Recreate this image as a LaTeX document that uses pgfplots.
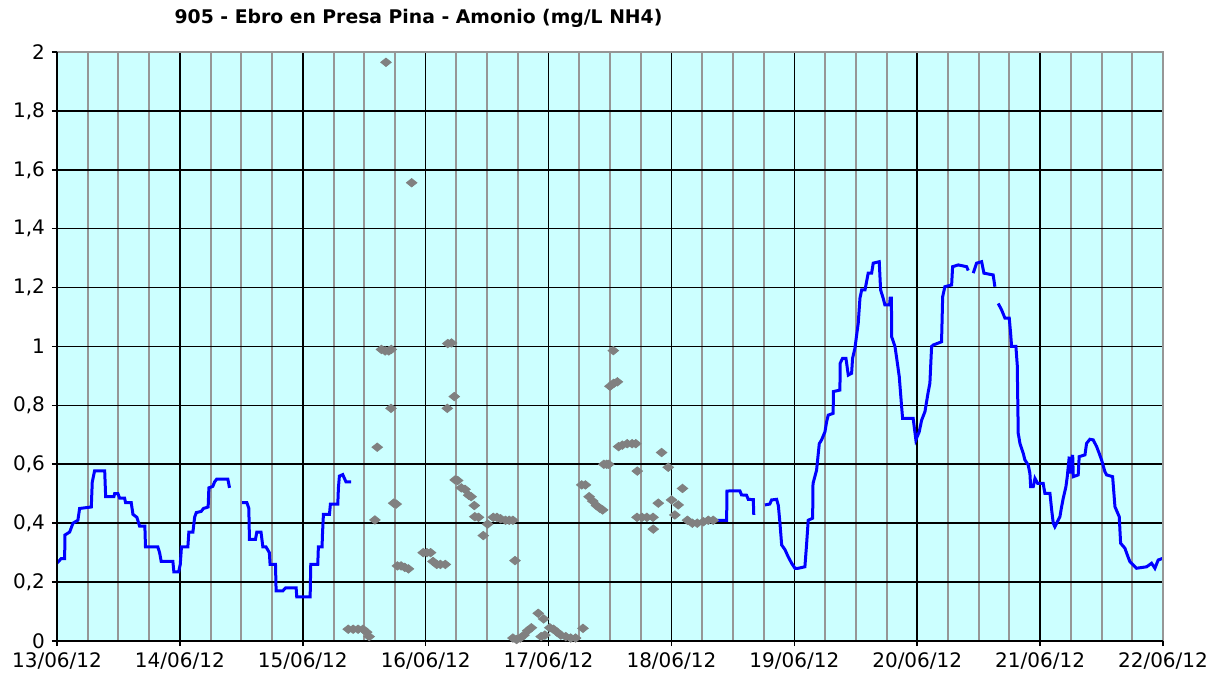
\documentclass[border=0pt]{standalone}
\usepackage{fontspec}
\setmainfont{DejaVu Sans}
\usepackage{pgfplots}
\pgfplotsset{compat=1.18}
\definecolor{bgc}{RGB}{204,255,255}
\definecolor{gridgray}{RGB}{150,150,150}
\definecolor{ptgray}{RGB}{128,128,128}
\definecolor{lineblue}{RGB}{0,0,255}
\begin{document}
\begin{tikzpicture}
\path[use as bounding box] (-28.5pt,-19.5pt) rectangle (582pt,320.5pt);
\begin{axis}[
  at={(0,0)}, anchor=south west,
  scale only axis, width=553pt, height=294.5pt,
  xmin=0, xmax=9, ymin=0, ymax=2,
  axis background/.style={fill=bgc},
  axis line style={draw=none},
  xtick={0,1,2,3,4,5,6,7,8,9},
  xticklabels={13/06/12,14/06/12,15/06/12,16/06/12,17/06/12,18/06/12,19/06/12,20/06/12,21/06/12,22/06/12},
  ytick={0,0.2,0.4,0.6,0.8,1,1.2,1.4,1.6,1.8,2},
  minor x tick num=3,
  grid=both,
  minor grid style={gridgray, line width=1pt},
  major grid style={black, line width=0.8pt},
  tick align=outside,
  tick pos=lower,
  major tick length=2.5pt, minor tick length=0pt,
  tick style={black, line width=0.8pt},
  ticklabel style={font=\fontsize{10}{12}\selectfont},
  /pgf/number format/use comma,
  /pgf/number format/assume math mode=true,
  clip=false,
]
% blue series
\addplot[lineblue, line width=1.5pt, mark=none] coordinates {
(0,0.265)(0.035,0.28)(0.062,0.28)(0.065,0.36)(0.103,0.37)(0.13,0.40)(0.17,0.41)(0.184,0.45)(0.279,0.455)(0.287,0.54)(0.306,0.578)(0.388,0.578)(0.396,0.49)(0.463,0.49)(0.469,0.50)(0.496,0.50)(0.51,0.485)(0.55,0.485)(0.558,0.47)(0.604,0.47)(0.618,0.43)(0.65,0.42)(0.672,0.39)(0.715,0.39)(0.72,0.32)(0.82,0.32)(0.835,0.30)(0.848,0.27)(0.943,0.27)(0.951,0.235)(0.99,0.235)(1.003,0.26)(1.013,0.32)(1.065,0.32)(1.073,0.37)(1.106,0.37)(1.12,0.42)(1.133,0.436)(1.173,0.44)(1.192,0.45)(1.23,0.455)(1.236,0.52)(1.268,0.525)(1.282,0.54)(1.30,0.55)(1.39,0.55)(1.404,0.52)
};
\addplot[lineblue, line width=1.5pt, mark=none] coordinates {
(1.507,0.47)(1.545,0.47)(1.561,0.45)(1.566,0.345)(1.615,0.345)(1.626,0.37)(1.66,0.37)(1.675,0.32)(1.70,0.32)(1.728,0.30)(1.734,0.26)(1.778,0.26)(1.783,0.17)(1.837,0.17)(1.859,0.18)(1.946,0.18)(1.951,0.15)(2.06,0.15)(2.065,0.26)(2.122,0.26)(2.127,0.32)(2.157,0.32)(2.16,0.36)(2.168,0.43)(2.217,0.43)(2.225,0.465)(2.285,0.465)(2.29,0.52)(2.298,0.56)(2.325,0.565)(2.352,0.54)(2.393,0.54)
};
\addplot[lineblue, line width=1.5pt, mark=none] coordinates {
(5.354,0.41)(5.449,0.41)(5.452,0.509)(5.49,0.51)(5.557,0.51)(5.57,0.496)(5.611,0.495)(5.625,0.481)(5.666,0.48)(5.67,0.428)
};
\addplot[lineblue, line width=1.5pt, mark=none] coordinates {
(5.761,0.462)(5.80,0.465)(5.815,0.479)(5.856,0.481)(5.87,0.46)(5.883,0.40)(5.897,0.326)(5.924,0.31)(5.950,0.286)(5.978,0.264)(6.005,0.247)(6.032,0.247)(6.086,0.252)(6.100,0.33)(6.113,0.41)(6.149,0.417)(6.152,0.535)(6.181,0.58)(6.203,0.67)(6.222,0.683)(6.249,0.71)(6.263,0.745)(6.276,0.767)(6.316,0.773)(6.318,0.847)(6.371,0.852)(6.373,0.943)(6.393,0.96)(6.420,0.96)(6.439,0.903)(6.466,0.909)(6.474,0.96)(6.493,0.994)(6.507,1.039)(6.520,1.079)(6.534,1.164)(6.548,1.192)(6.575,1.192)(6.601,1.249)(6.629,1.249)(6.642,1.283)(6.691,1.288)(6.702,1.192)(6.723,1.164)(6.737,1.141)(6.775,1.141)(6.78,1.164)(6.79,1.164)(6.792,1.033)(6.819,1.0)(6.833,0.96)(6.854,0.897)(6.873,0.796)(6.881,0.756)(6.967,0.756)(6.989,0.683)(7.016,0.71)(7.036,0.75)(7.063,0.779)(7.090,0.847)(7.103,0.875)(7.117,1.0)(7.130,1.005)(7.198,1.016)(7.207,1.169)(7.225,1.203)(7.280,1.209)(7.288,1.271)(7.334,1.277)(7.402,1.271)(7.415,1.258)
};
\addplot[lineblue, line width=1.5pt, mark=none] coordinates {
(7.456,1.249)(7.483,1.283)(7.524,1.288)(7.543,1.249)(7.618,1.243)(7.632,1.203)
};
\addplot[lineblue, line width=1.5pt, mark=none] coordinates {
(7.659,1.146)(7.687,1.124)(7.714,1.096)(7.749,1.096)(7.760,1.045)(7.768,1.0)(7.803,1.0)(7.814,0.937)(7.822,0.705)(7.836,0.671)(7.863,0.637)(7.876,0.615)(7.903,0.598)(7.917,0.569)(7.923,0.524)(7.944,0.524)(7.958,0.552)(7.98,0.535)(8.025,0.535)(8.039,0.501)(8.080,0.501)(8.094,0.445)(8.107,0.40)(8.120,0.388)(8.135,0.40)(8.161,0.422)(8.175,0.456)(8.188,0.484)(8.210,0.524)(8.221,0.558)(8.237,0.626)(8.249,0.569)(8.265,0.632)(8.270,0.558)(8.310,0.564)(8.318,0.626)(8.365,0.632)(8.378,0.671)(8.405,0.685)(8.432,0.683)(8.460,0.66)(8.481,0.637)(8.500,0.615)(8.527,0.575)(8.541,0.564)(8.590,0.558)(8.609,0.456)(8.644,0.422)(8.655,0.332)(8.690,0.315)(8.715,0.286)(8.731,0.269)(8.758,0.258)(8.785,0.247)(8.867,0.252)(8.907,0.264)(8.934,0.247)(8.961,0.275)(9.0,0.281)
};
% gray series
\addplot[only marks, mark=diamond*, mark size=2.1pt, mark options={xscale=1.67, draw=ptgray, fill=ptgray}] coordinates {
(2.677,1.965)(2.886,1.556)
(2.64,0.99)(2.67,0.985)(2.70,0.985)(2.72,0.99)
(3.18,1.01)(3.21,1.012)
(3.233,0.83)(3.176,0.79)(2.718,0.79)(2.606,0.658)
(2.74,0.468)(2.76,0.465)
(2.587,0.411)
(3.24,0.547)(3.26,0.545)(3.29,0.52)(3.32,0.515)(3.35,0.495)(3.37,0.49)(3.396,0.46)(3.40,0.422)(3.43,0.42)
(3.55,0.42)(3.58,0.42)(3.61,0.415)(3.65,0.41)(3.68,0.41)(3.71,0.41)
(3.504,0.397)(3.469,0.358)(3.727,0.273)
(2.98,0.30)(3.01,0.30)(3.04,0.30)
(3.06,0.27)(3.09,0.26)(3.12,0.26)(3.16,0.26)
(2.77,0.255)(2.80,0.255)(2.83,0.25)(2.86,0.245)
(2.37,0.04)(2.41,0.04)(2.45,0.04)(2.49,0.04)(2.52,0.03)(2.54,0.015)
(3.71,0.01)(3.74,0.005)(3.77,0.01)(3.80,0.02)(3.83,0.035)(3.86,0.045)(3.916,0.094)(3.96,0.075)(3.94,0.015)(3.97,0.02)(4.01,0.045)(4.04,0.04)(4.07,0.03)(4.10,0.02)(4.14,0.015)(4.18,0.01)(4.22,0.01)(4.28,0.043)
(4.527,0.986)(4.50,0.865)(4.53,0.875)(4.56,0.88)
(4.57,0.66)(4.60,0.665)(4.64,0.67)(4.68,0.67)(4.71,0.67)
(4.92,0.64)(4.45,0.6)(4.473,0.6)(4.49,0.6)(4.974,0.59)(4.722,0.577)(4.27,0.53)(4.30,0.53)
(4.33,0.49)(4.36,0.475)(4.39,0.46)(4.42,0.45)(4.44,0.445)
(5.09,0.518)(4.893,0.468)(5.001,0.479)(5.055,0.462)
(4.72,0.42)(4.76,0.42)(4.80,0.42)(4.85,0.42)(4.852,0.38)
(5.028,0.428)(5.13,0.41)(5.17,0.40)(5.21,0.40)(5.26,0.405)(5.30,0.41)(5.34,0.41)
};
\draw[gridgray, line width=0.8pt] (rel axis cs:0,1) -- (rel axis cs:1,1) -- (rel axis cs:1,0);
\draw[black, line width=0.8pt] (rel axis cs:0,1) -- (rel axis cs:0,0) -- (rel axis cs:1,0);
\end{axis}
\node[font=\bfseries\fontsize{9.4}{11}\selectfont, text=black] at (180.75pt,311.5pt) {905 - Ebro en Presa Pina - Amonio (mg/L NH4)};
\end{tikzpicture}
\end{document}
